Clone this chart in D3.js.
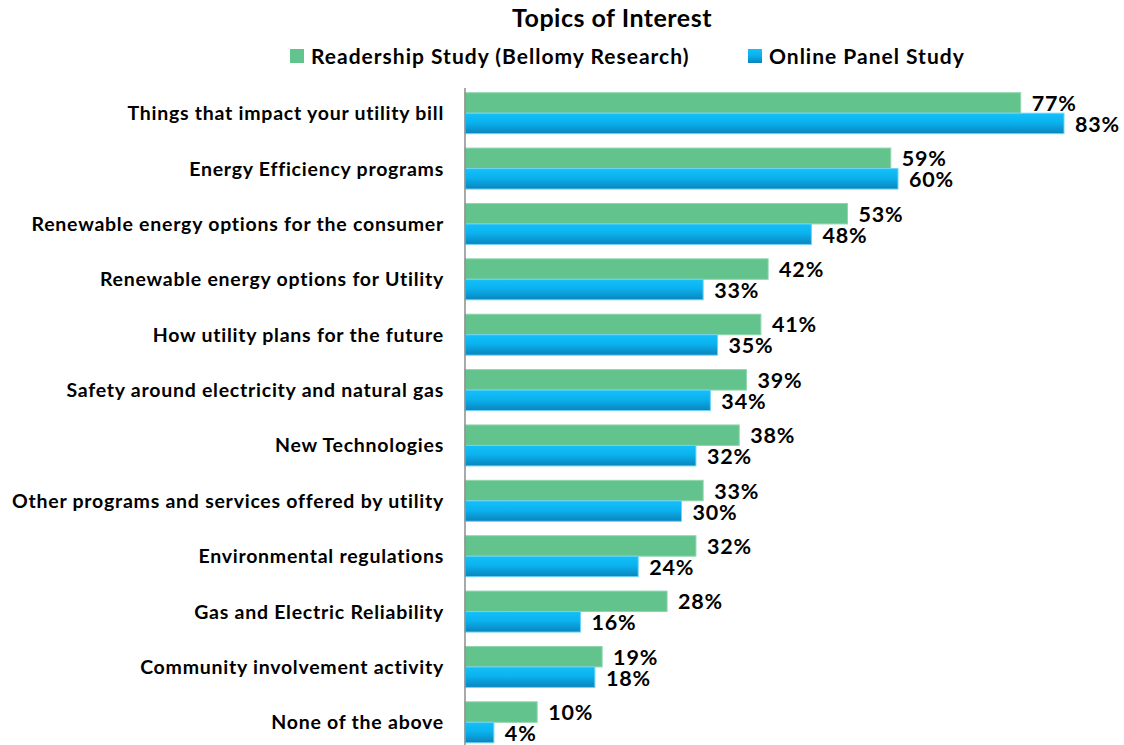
<!DOCTYPE html>
<html>
<head>
<meta charset="utf-8">
<script src="https://cdn.jsdelivr.net/npm/d3@7"></script>
<style>
  html, body { margin: 0; padding: 0; background: #fff; }
  svg { display: block; font-family: Lato, "Open Sans", sans-serif; font-weight: bold; }
</style>
</head>
<body>
<svg id="chart" width="1124" height="745"></svg>
<script>
// Topics of interest, two surveys
const categories = [
  "Things that impact your utility bill",
  "Energy Efficiency programs",
  "Renewable energy options for the consumer",
  "Renewable energy options for Utility",
  "How utility plans for the future",
  "Safety around electricity and natural gas",
  "New Technologies",
  "Other programs and services offered by utility",
  "Environmental regulations",
  "Gas and Electric Reliability",
  "Community involvement activity",
  "None of the above"
];
const readership = [77, 59, 53, 42, 41, 39, 38, 33, 32, 28, 19, 10];
const onlinePanel = [83, 60, 48, 33, 35, 34, 32, 30, 24, 16, 18, 4];
const seriesNames = ["Readership Study (Bellomy Research)", "Online Panel Study"];

const svg = d3.select("#chart");
const plotLeft = 465, plotTop = 85.5, plotBottom = 750;

const x = d3.scaleLinear().domain([0, 83]).range([plotLeft, 1064]);
const y = d3.scaleBand().domain(categories).range([plotTop, plotBottom]).paddingInner(0.26).paddingOuter(0.13);
const sub = d3.scaleBand().domain([0, 1]).range([0, y.bandwidth()]);

// gradient for the second series
const defs = svg.append("defs");
const grad = defs.append("linearGradient").attr("id", "blueGrad")
  .attr("x1", 0).attr("y1", 0).attr("x2", 0).attr("y2", 1);
grad.append("stop").attr("offset", "0%").attr("stop-color", "#14c0fa");
grad.append("stop").attr("offset", "45%").attr("stop-color", "#0bb2ee");
grad.append("stop").attr("offset", "100%").attr("stop-color", "#0a84bd");

// title
svg.append("text").attr("x", 612).attr("y", 27).attr("text-anchor", "middle")
  .attr("font-size", 25).attr("letter-spacing", 0.5).attr("fill", "#000").text("Topics of Interest");

// legend
const legend = [
  { name: seriesNames[0], fill: "#62c38c", sx: 290 },
  { name: seriesNames[1], fill: "url(#blueGrad)", sx: 748 }
];
const lg = svg.append("g").selectAll("g").data(legend).join("g");
lg.append("rect").attr("x", d => d.sx).attr("y", 49).attr("width", 14).attr("height", 14)
  .attr("fill", d => d.fill);
lg.append("text").attr("x", d => d.sx + 21).attr("y", 64).attr("font-size", 21)
  .attr("letter-spacing", 1).attr("fill", "#000").text(d => d.name);

// category labels
svg.append("g").selectAll("text").data(categories).join("text")
  .attr("x", 444).attr("y", d => y(d) + y.bandwidth() / 2 + 7)
  .attr("text-anchor", "end").attr("font-size", 19.5).attr("letter-spacing", 0.75).attr("fill", "#000")
  .text(d => d);

// bars
const rows = categories.map((c, i) => ({ c, vals: [readership[i], onlinePanel[i]] }));
const groups = svg.append("g").selectAll("g").data(rows).join("g")
  .attr("transform", d => `translate(0,${y(d.c)})`);

groups.selectAll("rect").data(d => d.vals.map((v, k) => ({ v, k }))).join("rect")
  .attr("x", x(0))
  .attr("y", d => sub(d.k))
  .attr("width", d => x(d.v) - x(0))
  .attr("height", sub.bandwidth())
  .attr("fill", d => d.k === 0 ? "#62c38c" : "url(#blueGrad)")
  .attr("stroke", d => d.k === 0 ? "#8fd6ad" : "#6fd3f6")
  .attr("stroke-width", 1);

// value labels
groups.selectAll("text").data(d => d.vals.map((v, k) => ({ v, k }))).join("text")
  .attr("x", d => x(d.v) + 11)
  .attr("y", d => sub(d.k) + sub.bandwidth() / 2 + (d.k === 0 ? 8 : 8.5))
  .attr("font-size", 21.5).attr("letter-spacing", 0.8).attr("fill", "#000")
  .text(d => d.v + "%");

// category axis line
svg.append("line").attr("x1", plotLeft).attr("x2", plotLeft).attr("y1", 88).attr("y2", 745)
  .attr("stroke", "#8c8c8c").attr("stroke-width", 1.5);
</script>
</body>
</html>
